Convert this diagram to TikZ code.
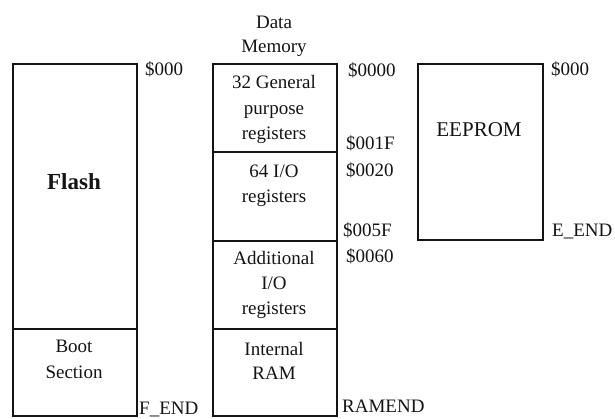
\documentclass[tikz,border=0pt]{standalone}
\usepackage{fontspec}
\setmainfont{Liberation Serif}
\definecolor{ink}{HTML}{141414}
\begin{document}
\begin{tikzpicture}[x=1pt,y=-1pt,
  box/.style={draw=ink, line width=1.9pt, inner sep=0pt, anchor=north west, minimum width=124pt},
  txt/.style={font=\fontsize{19}{25}\selectfont, text=ink, inner sep=0pt, anchor=base},
  addr/.style={txt, anchor=base west}]
\useasboundingbox (0,0) rectangle (615,419);
% Flash column
\node[box, minimum height=265pt] (flash) at (12,63) {};
\node[box, minimum height=87pt] (boot) at (12,328) {};
\node[txt, font=\bfseries\fontsize{23}{28}\selectfont] (flashlbl) at (74,190) {Flash};
\node[txt] (boot1) at (74,352) {Boot};
\node[txt] (boot2) at (74,378) {Section};
\node[addr] (fstart) at (145,76) {\$000};
\node[addr] (fend) at (139,414.5) {F\_END};
% Data memory column
\node[txt] (dm1) at (274,29) {Data};
\node[txt] (dm2) at (274,53) {Memory};
\node[box, minimum height=88pt] (gpr) at (212,63) {};
\node[box, minimum height=89pt] (io) at (212,151) {};
\node[box, minimum height=88pt] (addio) at (212,240) {};
\node[box, minimum height=87pt] (ram) at (212,328) {};
\node[txt] (gpr1) at (274,89) {32 General};
\node[txt] (gpr2) at (274,115) {purpose};
\node[txt] (gpr3) at (274,140) {registers};
\node[txt] (io1) at (274,178) {64 I/O};
\node[txt] (io2) at (274,203) {registers};
\node[txt] (aio1) at (274,265) {Additional};
\node[txt] (aio2) at (274,290) {I/O};
\node[txt] (aio3) at (274,314) {registers};
\node[txt] (ram1) at (274,355) {Internal};
\node[txt] (ram2) at (274,379) {RAM};
\node[addr] (a0000) at (348,77) {\$0000};
\node[addr] (a001f) at (346,150) {\$001F};
\node[addr] (a0020) at (346,177) {\$0020};
\node[addr] (a005f) at (343,237) {\$005F};
\node[addr] (a0060) at (346,263) {\$0060};
\node[addr] (ramend) at (342,412) {RAMEND};
% EEPROM
\node[box, minimum width=125pt, minimum height=176pt] (eeprom) at (417,63) {};
\node[txt, font=\fontsize{21}{25}\selectfont] (eelbl) at (479,137) {EEPROM};
\node[addr] (estart) at (551,76) {\$000};
\node[addr] (eend) at (552,237) {E\_END};
\end{tikzpicture}
\end{document}
